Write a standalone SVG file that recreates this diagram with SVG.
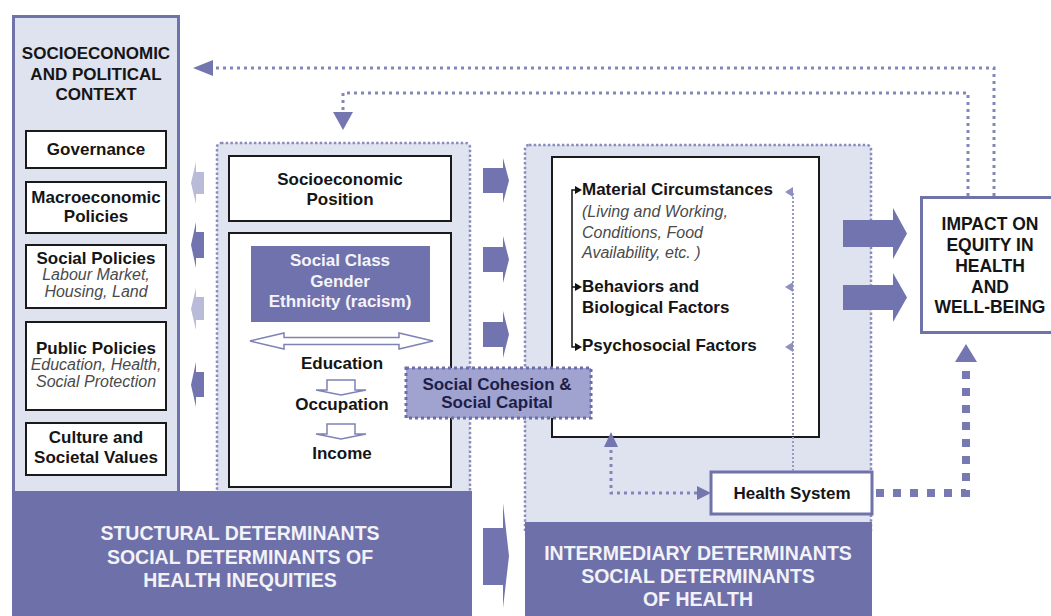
<svg xmlns="http://www.w3.org/2000/svg" width="1051" height="616" viewBox="0 0 1051 616">
  <defs>
    <style>
      .lbl{font-family:"Liberation Sans",Arial,sans-serif;font-weight:bold;font-size:17px;fill:#151515;text-anchor:middle}
      .lft{font-family:"Liberation Sans",Arial,sans-serif;font-weight:bold;font-size:17px;fill:#151515}
      .it{font-family:"Liberation Sans",Arial,sans-serif;font-style:italic;font-size:16px;fill:#4a4a4a;text-anchor:middle}
      .itl{font-family:"Liberation Sans",Arial,sans-serif;font-style:italic;font-size:16px;fill:#4a4a4a}
      .rev{font-family:"Liberation Sans",Arial,sans-serif;font-weight:bold;font-size:19.5px;fill:#f2f2f8;text-anchor:middle}
      .revs{font-family:"Liberation Sans",Arial,sans-serif;font-weight:bold;font-size:17px;fill:#f4f4fa;text-anchor:middle}
      .box{fill:#fff;stroke:#1a1a1a;stroke-width:2}
      .pbox{fill:#fff;stroke:#7072aa;stroke-width:3}
      .dots{fill:none;stroke:#8386b9;stroke-width:3;stroke-dasharray:3 4}
      .fine{stroke:#8a8cbc;stroke-width:2.5;stroke-dasharray:2.5 2.2}
      .thin{fill:none;stroke:#9799c6;stroke-width:2;stroke-dasharray:2 2}
      .big{fill:none;stroke:#7779b3;stroke-width:8;stroke-dasharray:8 9}
      .head{fill:#7476b0}
      .thead{fill:#8e90c0}
      .dark{fill:#7274b0}
      .light{fill:#b9bbd9}
      .blk{fill:#6e70aa}
      .hollow{fill:#fff;stroke:#7f82b5;stroke-width:1.5}
    </style>
  </defs>

  <rect width="1051" height="616" fill="#fff"/>

  <!-- shaded regions behind the nodes -->
  <g id="regions">
    <rect x="217" y="143" width="253" height="360" rx="4" fill="#e0e3f0" class="fine"/>
    <rect x="525" y="145" width="346" height="390" rx="4" fill="#dfe2ef" class="fine"/>
  </g>

  <!-- socioeconomic and political context column -->
  <g id="context">
    <rect x="13.5" y="16.5" width="165" height="480" fill="#dfe2ef" stroke="#7072aa" stroke-width="3"/>
    <text class="lbl" x="96" y="59">SOCIOECONOMIC</text>
    <text class="lbl" x="96" y="80">AND POLITICAL</text>
    <text class="lbl" x="96" y="100">CONTEXT</text>
  </g>
  <g id="governance">
    <rect class="box" x="26" y="131" width="140" height="37"/>
    <text class="lbl" x="96" y="155">Governance</text>
  </g>
  <g id="macroeconomic">
    <rect class="box" x="26" y="182" width="140" height="51"/>
    <text class="lbl" x="96" y="203">Macroeconomic</text>
    <text class="lbl" x="96" y="222">Policies</text>
  </g>
  <g id="social-policies">
    <rect class="box" x="26" y="245" width="140" height="63"/>
    <text class="lbl" x="96" y="264">Social Policies</text>
    <text class="it" x="96" y="280">Labour Market,</text>
    <text class="it" x="96" y="297">Housing, Land</text>
  </g>
  <g id="public-policies">
    <rect class="box" x="26" y="322" width="140" height="88"/>
    <text class="lbl" x="96" y="354">Public Policies</text>
    <text class="it" x="96" y="370">Education, Health,</text>
    <text class="it" x="96" y="387">Social Protection</text>
  </g>
  <g id="culture">
    <rect class="box" x="26" y="423" width="140" height="52"/>
    <text class="lbl" x="96" y="443">Culture and</text>
    <text class="lbl" x="96" y="463">Societal Values</text>
  </g>

  <!-- structural determinants -->
  <g id="socioeconomic-position">
    <rect class="box" x="229" y="156" width="222" height="65"/>
    <text class="lbl" x="340" y="185">Socioeconomic</text>
    <text class="lbl" x="340" y="205">Position</text>
  </g>
  <g id="stratifiers">
    <rect class="box" x="229" y="233" width="222" height="254"/>
    <rect x="251" y="246" width="179" height="76" fill="#7072ad"/>
    <text class="revs" x="340" y="266">Social Class</text>
    <text class="revs" x="340" y="287">Gender</text>
    <text class="revs" x="340" y="307">Ethnicity (racism)</text>
    <polygon class="hollow" points="250,341 284,333 284,337.5 399,337.5 399,333 433,341 399,349 399,344.5 284,344.5 284,349"/>
    <text class="lbl" x="342" y="369">Education</text>
    <polygon class="hollow" points="327,380 355,380 355,390 366,390 341,395 316,390 327,390"/>
    <text class="lbl" x="342" y="410">Occupation</text>
    <polygon class="hollow" points="327,424 355,424 355,434 366,434 341,439 316,434 327,434"/>
    <text class="lbl" x="342" y="459">Income</text>
  </g>

  <!-- intermediary determinants -->
  <g id="intermediary-factors">
    <rect class="box" x="552" y="157" width="267" height="280"/>
    <text class="lft" x="582" y="195">Material Circumstances</text>
    <text class="itl" x="582" y="217">(Living and Working,</text>
    <text class="itl" x="582" y="238">Conditions, Food</text>
    <text class="itl" x="582" y="258">Availability, etc. )</text>
    <text class="lft" x="582" y="292">Behaviors and</text>
    <text class="lft" x="582" y="313">Biological Factors</text>
    <text class="lft" x="582" y="351">Psychosocial Factors</text>
    <path d="M576,190 H572 V347 H576 M572,287 H576" fill="none" stroke="#111" stroke-width="1.5"/>
    <polygon points="575,186 582,190 575,194" fill="#111"/>
    <polygon points="575,283 582,287 575,291" fill="#111"/>
    <polygon points="575,343 582,347 575,351" fill="#111"/>
  </g>

  <g id="social-cohesion">
    <rect x="406" y="368" width="185" height="50" fill="#a0a3cf" stroke="#6c6eaa" stroke-width="3" stroke-dasharray="3 3"/>
    <text class="lbl" x="497" y="390" style="fill:#1c1e4a">Social Cohesion &amp;</text>
    <text class="lbl" x="497" y="408" style="fill:#1c1e4a">Social Capital</text>
  </g>

  <g id="health-system">
    <rect class="pbox" x="711" y="472" width="161" height="42"/>
    <text class="lbl" x="792" y="499">Health System</text>
  </g>

  <g id="impact">
    <rect class="pbox" x="921.5" y="197.5" width="140" height="135"/>
    <text class="lbl" x="990" y="230" style="font-size:17.5px">IMPACT ON</text>
    <text class="lbl" x="990" y="251" style="font-size:17.5px">EQUITY IN</text>
    <text class="lbl" x="990" y="272" style="font-size:17.5px">HEALTH</text>
    <text class="lbl" x="990" y="293" style="font-size:17.5px">AND</text>
    <text class="lbl" x="990" y="313" style="font-size:17.5px">WELL-BEING</text>
  </g>

  <!-- bottom captions -->
  <g id="structural-caption">
    <rect class="blk" x="12" y="491" width="460" height="125"/>
    <text class="rev" x="240" y="540">STUCTURAL DETERMINANTS</text>
    <text class="rev" x="240" y="564">SOCIAL DETERMINANTS OF</text>
    <text class="rev" x="240" y="587">HEALTH INEQUITIES</text>
  </g>
  <g id="intermediary-caption">
    <rect class="blk" x="525" y="522" width="347" height="94"/>
    <text class="rev" x="698" y="560">INTERMEDIARY DETERMINANTS</text>
    <text class="rev" x="698" y="583">SOCIAL DETERMINANTS</text>
    <text class="rev" x="698" y="606">OF HEALTH</text>
  </g>

  <!-- connectors -->
  <g id="connectors">
    <!-- feedback from impact to context and to structural determinants -->
    <path class="dots" d="M994,196 V68 H212"/>
    <polygon class="head" points="193,68 213,60 213,76"/>
    <path class="dots" d="M968,196 V93 H343 V112"/>
    <polygon class="head" points="343,130 333,112 353,112"/>

    <!-- context arrows -->
    <polygon class="light" points="204,172 196,172 196,162 191,183 196,204 196,194 204,194"/>
    <polygon class="dark" points="204,232 196,232 196,222 191,245 196,268 196,258 204,258"/>
    <polygon class="light" points="204,297 196,297 196,288 191,309 196,330 196,320 204,320"/>
    <polygon class="dark" points="204,372 196,372 196,362 191,385 196,407 196,397 204,397"/>

    <!-- structural to intermediary -->
    <polygon class="dark" points="483,168 503,168 503,158 509,180.5 503,203 503,193 483,193"/>
    <polygon class="dark" points="483,247 503,247 503,236 509,259.5 503,283 503,272 483,272"/>
    <polygon class="dark" points="483,322 503,322 503,311 509,334.5 503,358 503,347 483,347"/>
    <polygon class="dark" points="483,528 503,528 503,503 509,556 503,608 503,585 483,585"/>

    <!-- intermediary to impact -->
    <polygon class="dark" points="843,220 893,220 893,208 907,233.5 893,259 893,247 843,247"/>
    <polygon class="dark" points="843,285 893,285 893,273 907,297.5 893,322 893,310 843,310"/>

    <!-- health system links -->
    <path class="thin" d="M793,471 V192"/>
    <polygon class="thead" points="785,192 793,187 793,197"/>
    <polygon class="thead" points="785,287 793,282 793,292"/>
    <polygon class="thead" points="785,347 793,342 793,352"/>
    <path class="dots" d="M697,493 H611 V448"/>
    <polygon class="head" points="711,493 697,486 697,500"/>
    <polygon class="head" points="611,432 604,447 618,447"/>
    <path class="big" d="M876,493 H966 V362"/>
    <polygon class="head" points="966,344 955,362 977,362"/>
  </g>
</svg>
